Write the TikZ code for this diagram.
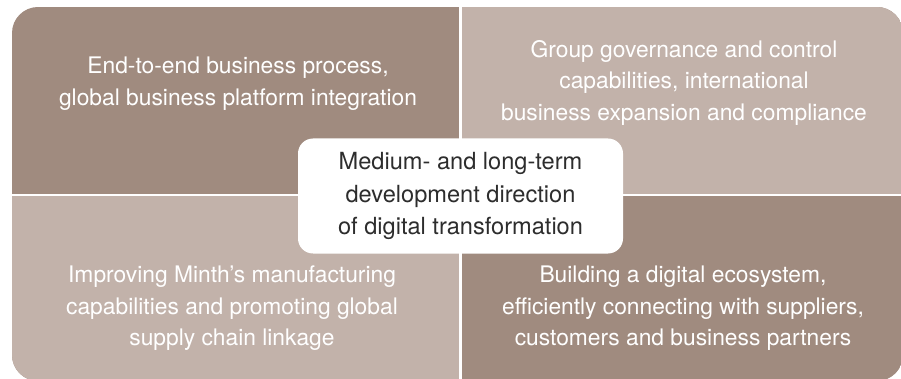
\documentclass[tikz,border=0pt]{standalone}
\usepackage{fontspec}
\setmainfont{TeX Gyre Heros}
\usetikzlibrary{calc}
\definecolor{taupedark}{RGB}{160,139,127}
\definecolor{taupelight}{RGB}{194,178,170}
\definecolor{coregray}{RGB}{45,45,45}

\begin{document}
\begin{tikzpicture}[x=1pt,y=-1pt,
    quadtext/.style={text=white, align=center, inner sep=0pt, font=\fontsize{22.8}{31.5}\selectfont},
    corebox/.style={fill=white, rounded corners=15pt, text=coregray, align=center,
      minimum width=325pt, minimum height=115pt, font=\fontsize{23.6}{32.5}\selectfont}]
    \useasboundingbox (0,0) rectangle (901,379);
    % four quarters inside one rounded frame
    \begin{scope}
      \clip[rounded corners=26pt] (12,7) rectangle (903,381);
      \fill[taupedark] (12,7) rectangle (903,381);
      \fill[taupelight] (460.5,7) rectangle (903,195);
      \fill[taupelight] (12,195) rectangle (460.5,381);
      \draw[white, line width=2.5pt] (460.5,0) -- (460.5,381);
      \draw[white, line width=2.5pt] (0,195) -- (903,195);
    \end{scope}
    \node[quadtext] (process) at (238,83.5) {End-to-end business process,\\global business platform integration};
    \node[quadtext] (governance) at (684,82.5) {Group governance and control\\capabilities, international\\business expansion and compliance};
    \node[quadtext] (manufacturing) at (232,308.5) {Improving Minth’s manufacturing\\capabilities and promoting global\\supply chain linkage};
    \node[quadtext] (ecosystem) at (683,308.5) {Building a digital ecosystem,\\efficiently connecting with suppliers,\\customers and business partners};
    \node[corebox] (direction) at (460.5,196) {Medium- and long-term\\development direction\\of digital transformation};
\end{tikzpicture}
\end{document}
